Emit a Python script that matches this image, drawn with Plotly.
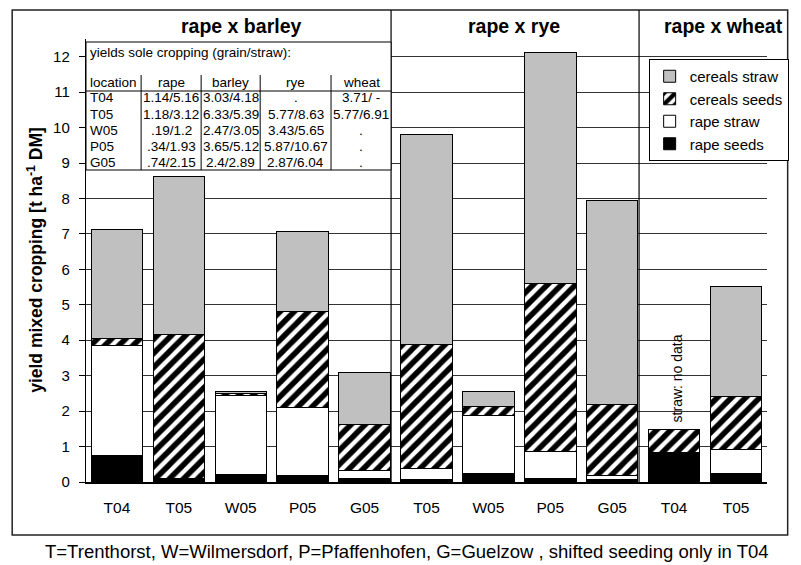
import plotly.graph_objects as go

# ---------------- data ----------------
categories = ["T04", "T05", "W05", "P05", "G05", "T05", "W05", "P05", "G05", "T04", "T05"]
rape_seeds    = [0.75, 0.08, 0.22, 0.19, 0.09, 0.07, 0.23, 0.11, 0.06, 0.82, 0.23]
rape_straw    = [3.11, 0.02, 2.22, 1.90, 0.24, 0.32, 1.64, 0.74, 0.13, 0.00, 0.68]
cereals_seeds = [0.19, 4.07, 0.05, 2.72, 1.29, 3.50, 0.26, 4.75, 1.99, 0.65, 1.49]
cereals_straw = [3.08, 4.44, 0.06, 2.25, 1.48, 5.91, 0.42, 6.52, 5.75, 0.00, 3.13]

section_titles = ["rape x barley", "rape x rye", "rape x wheat"]

table_title = "yields sole cropping (grain/straw):"
table_header = ["location", "rape", "barley", "rye", "wheat"]
table_locations = ["T04", "T05", "W05", "P05", "G05"]
sole_rape   = ["1.14/5.16", "1.18/3.12", ".19/1.2", ".34/1.93", ".74/2.15"]
sole_barley = ["3.03/4.18", "6.33/5.39", "2.47/3.05", "3.65/5.12", "2.4/2.89"]
sole_rye    = [".", "5.77/8.63", "3.43/5.65", "5.87/10.67", "2.87/6.04"]
sole_wheat  = ["3.71/ -", "5.77/6.91", ".", ".", "."]

y_ticks = list(range(0, 13))
caption = "T=Trenthorst, W=Wilmersdorf, P=Pfaffenhofen, G=Guelzow , shifted seeding only in T04"
y_title = "yield mixed cropping [t ha<sup>-1</sup> DM]"

# ---------------- layout helpers (pixel -> paper) ----------------
L, R, T, B = 86, 778, 39, 482
W, H = R - L, B - T
def px(p):
    return (p - L) / W
def py(p):
    return (B - p) / H

FONT = "Arial, Liberation Sans, sans-serif"
xs = list(range(len(categories)))

fig = go.Figure()
fig.add_trace(go.Bar(x=xs, y=rape_seeds, name="rape seeds", legendgroup="a",
                     marker=dict(color="black", line=dict(color="black", width=1))))
fig.add_trace(go.Bar(x=xs, y=rape_straw, name="rape straw", legendgroup="b",
                     marker=dict(color="white", line=dict(color="black", width=1))))
fig.add_trace(go.Bar(x=xs, y=cereals_seeds, name="cereals seeds", legendgroup="c",
                     marker=dict(color="white", line=dict(color="black", width=1),
                                 pattern=dict(shape="/", fgcolor="black", bgcolor="white",
                                              fgopacity=1, size=10, solidity=0.55))))
fig.add_trace(go.Bar(x=xs, y=cereals_straw, name="cereals straw", legendgroup="d",
                     marker=dict(color="#c0c0c0", line=dict(color="black", width=1))))

shapes = []
annotations = []

# outer frame
shapes.append(dict(type="rect", xref="paper", yref="paper",
                   x0=px(11), x1=px(799), y0=py(535), y1=py(10),
                   line=dict(color="#222", width=1.5), layer="above"))
# section separators
for sx in (396, 648):
    shapes.append(dict(type="line", xref="paper", yref="paper",
                       x0=px(sx), x1=px(sx), y0=py(B), y1=py(10),
                       line=dict(color="black", width=1.2), layer="above"))

# table box
tx0, tx1, ty0, ty1 = 86, 396, 42, 170
shapes.append(dict(type="rect", xref="paper", yref="paper",
                   x0=px(tx0), x1=px(tx1), y0=py(ty1), y1=py(ty0),
                   fillcolor="white", line=dict(color="black", width=1), layer="above"))
shapes.append(dict(type="line", xref="paper", yref="paper",
                   x0=px(tx0), x1=px(tx1), y0=py(91), y1=py(91),
                   line=dict(color="black", width=1), layer="above"))
col_edges = [86, 142, 203, 263, 335, 396]
for cx in col_edges[1:-1]:
    shapes.append(dict(type="line", xref="paper", yref="paper",
                       x0=px(cx), x1=px(cx), y0=py(ty1), y1=py(75),
                       line=dict(color="black", width=1), layer="above"))

tfont = dict(family=FONT, size=13.5, color="black")
annotations.append(dict(text=table_title, xref="paper", yref="paper", x=px(88), y=py(52),
                        xanchor="left", yanchor="middle", showarrow=False, font=tfont))
row_y = [83, 97.5, 114, 130, 146.5, 162.5]
cols = [[table_header[0]] + table_locations, [table_header[1]] + sole_rape,
        [table_header[2]] + sole_barley, [table_header[3]] + sole_rye,
        [table_header[4]] + sole_wheat]
for j, col in enumerate(cols):
    for i, val in enumerate(col):
        if j == 0:
            annotations.append(dict(text=val, xref="paper", yref="paper", x=px(88), y=py(row_y[i]),
                                    xanchor="left", yanchor="middle", showarrow=False, font=tfont))
        else:
            cxm = (col_edges[j] + col_edges[j + 1]) / 2
            annotations.append(dict(text=val, xref="paper", yref="paper", x=px(cxm), y=py(row_y[i]),
                                    xanchor="center", yanchor="middle", showarrow=False, font=tfont))

# section titles
for t, cx in zip(section_titles, (244, 521, 734)):
    annotations.append(dict(text="<b>" + t + "</b>", xref="paper", yref="paper", x=px(cx), y=py(26),
                            xanchor="center", yanchor="middle", showarrow=False,
                            font=dict(family=FONT, size=19.5, color="black")))

# y title
annotations.append(dict(text="<b>" + y_title + "</b>", xref="paper", yref="paper", x=px(34), y=py(260),
                        xanchor="center", yanchor="middle", textangle=-90, showarrow=False,
                        font=dict(family=FONT, size=17.5, color="black")))
# caption
annotations.append(dict(text=caption, xref="paper", yref="paper", x=px(412), y=py(551),
                        xanchor="center", yanchor="middle", showarrow=False,
                        font=dict(family=FONT, size=18.5, color="black")))
# no data note
annotations.append(dict(text="straw: no data", xref="x", yref="y", x=9.05, y=2.93,
                        xanchor="center", yanchor="middle", textangle=-90, showarrow=False,
                        font=dict(family=FONT, size=14, color="black")))

fig.update_layout(
    width=801, height=565,
    margin=dict(l=L, r=801 - R, t=T, b=565 - B, pad=0),
    paper_bgcolor="white", plot_bgcolor="white",
    barmode="stack", bargap=0.17,
    font=dict(family=FONT, size=15, color="black"),
    showlegend=True,
    legend=dict(x=px(800), y=py(59), xanchor="right", yanchor="top",
                traceorder="reversed", tracegroupgap=11, itemwidth=30,
                bordercolor="black", borderwidth=1, bgcolor="white",
                font=dict(family=FONT, size=15, color="black")),
    xaxis=dict(range=[-0.5, len(categories) - 0.5], tickvals=xs, ticktext=categories,
               showline=True, linecolor="black", linewidth=1.5, showgrid=False,
               ticks="outside", ticklen=11, tickcolor="rgba(0,0,0,0)",
               tickfont=dict(family=FONT, size=15.5, color="black"), zeroline=False),
    yaxis=dict(range=[0, 12.5], tickvals=y_ticks, showline=True, linecolor="black", linewidth=1.2,
               showgrid=True, gridcolor="#333", gridwidth=1, ticks="outside", ticklen=6,
               tickcolor="black", tickfont=dict(family=FONT, size=15, color="black"),
               zeroline=False, ticklabelstandoff=6),
    shapes=shapes, annotations=annotations,
)

fig.write_html("out.html", config={"displayModeBar": False, "staticPlot": True},
               post_script="document.body.style.margin='0px';")
